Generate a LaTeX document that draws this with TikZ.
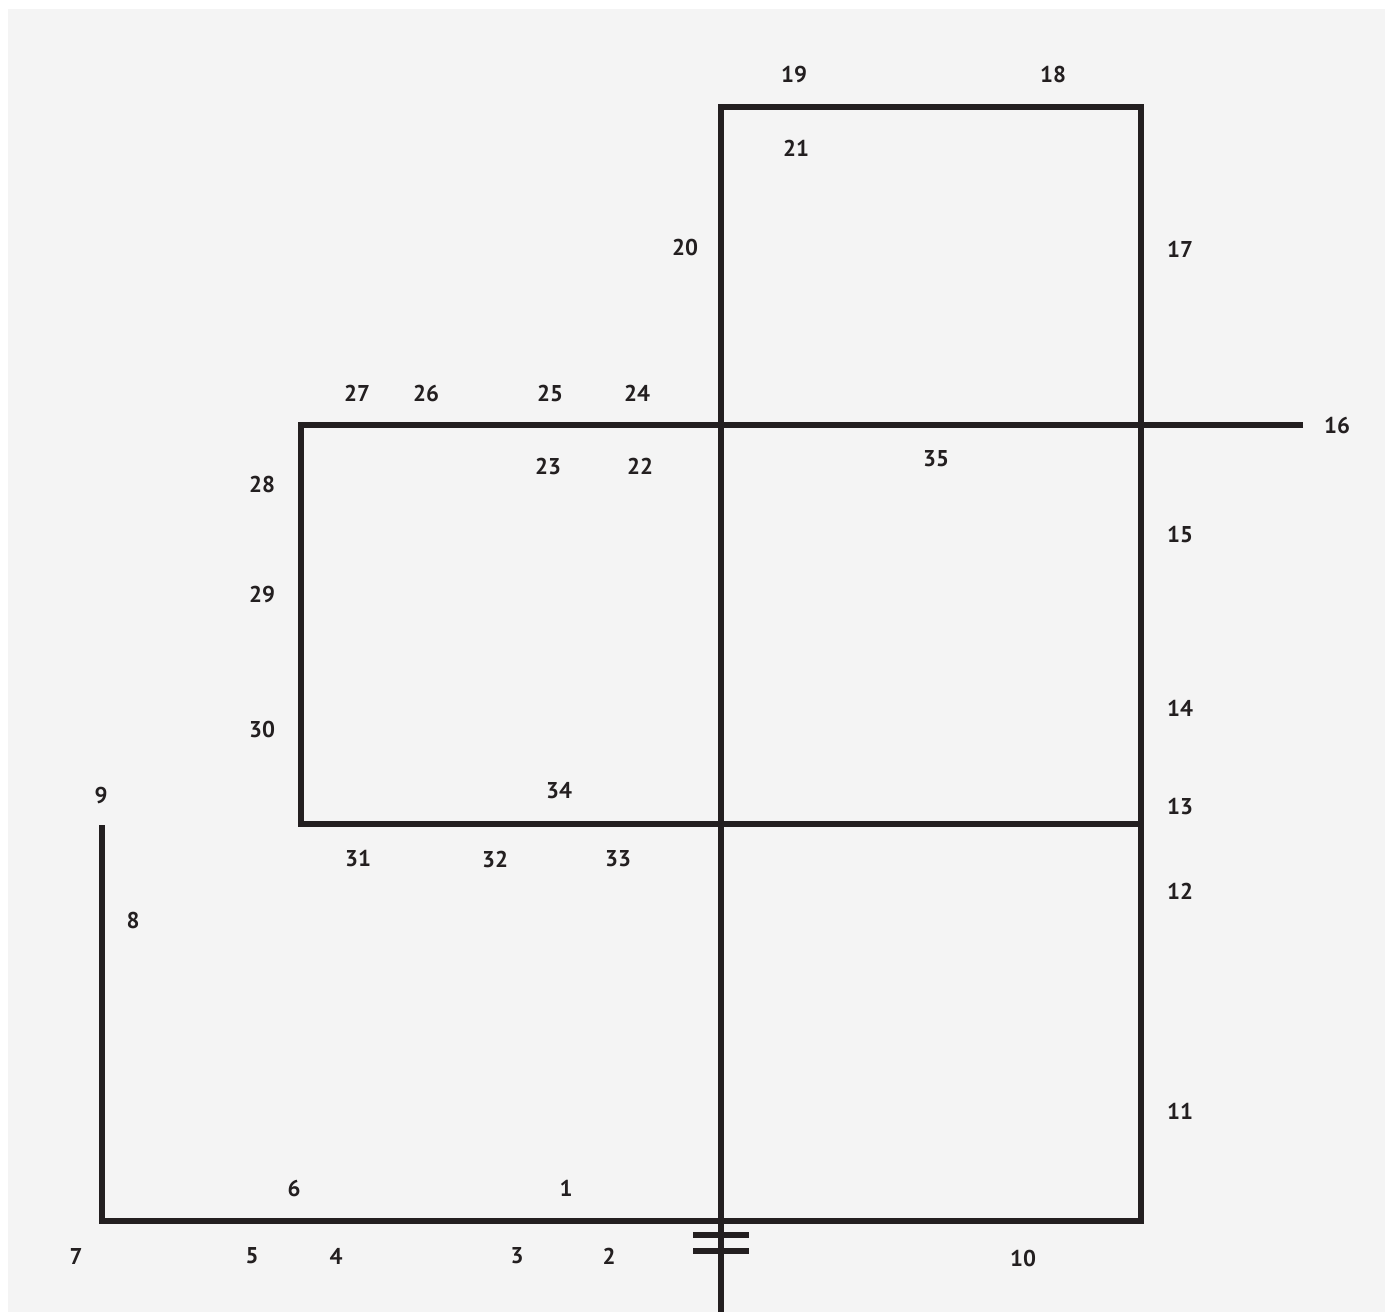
\documentclass[tikz,border=0pt]{standalone}
\usepackage{fontspec}
\setmainfont{PT Sans}
\usepackage{xcolor}
\definecolor{wireblack}{RGB}{35, 31, 32}
\definecolor{paperbg}{RGB}{244, 244, 244}

\begin{document}
\begin{tikzpicture}[x=0.2mm, y=-0.2mm,
		wire/.style={draw=wireblack, line width=1.2mm, line join=miter, line cap=butt},
		num/.style={text=wireblack, font=\fontsize{13}{15}\selectfont\bfseries, inner sep=0pt}]
		% Fondo
		\useasboundingbox (0,0) rectangle (1385,1312);
		\fill[paperbg] (8,9) rectangle (1385,1312);
		
		% Puntos de unión
		\coordinate (topL) at (721,107);
		\coordinate (topR) at (1141,107);
		\coordinate (midL) at (301,425);
		\coordinate (midE) at (1303,425);
		\coordinate (lowL) at (301,824);
		\coordinate (lowR) at (1141,824);
		\coordinate (botL) at (102,1221);
		\coordinate (botR) at (1141,1221);
		\coordinate (stub) at (102,825);
		\coordinate (feed) at (721,1312);
		\coordinate (barA) at (693,1235);
		\coordinate (barB) at (749,1235);
		\coordinate (barC) at (693,1251);
		\coordinate (barD) at (749,1251);
		
		% Trazado
		\draw[wire] (stub) -- (botL) -- (botR) -- (topR) -- (topL) -- (feed);
		\draw[wire] (midE) -- (midL) -- (lowL) -- (lowR);
		\draw[wire] (barA) -- (barB);
		\draw[wire] (barC) -- (barD);
		
		% Fila inferior
		\node[num] (l1) at (566,1188) {1};
		\node[num] (l2) at (609,1256) {2};
		\node[num] (l3) at (517,1256) {3};
		\node[num] (l4) at (336,1256) {4};
		\node[num] (l5) at (252,1256) {5};
		\node[num] (l6) at (294,1188) {6};
		\node[num] (l7) at (76,1256) {7};
		\node[num] (l8) at (133,920) {8};
		\node[num] (l9) at (101,795) {9};
		\node[num] (l10) at (1023,1258) {10};
		
		% Lado derecho
		\node[num] (l11) at (1180,1111) {11};
		\node[num] (l12) at (1180,891) {12};
		\node[num] (l13) at (1180,807) {13};
		\node[num] (l14) at (1180,708) {14};
		\node[num] (l15) at (1180,535) {15};
		\node[num] (l16) at (1337,425) {16};
		\node[num] (l17) at (1180,249) {17};
		
		% Parte superior
		\node[num] (l18) at (1053,75) {18};
		\node[num] (l19) at (794,75) {19};
		\node[num] (l20) at (685,247) {20};
		\node[num] (l21) at (796,148) {21};
		\node[num] (l22) at (640,466) {22};
		\node[num] (l23) at (548,466) {23};
		\node[num] (l24) at (637,393) {24};
		\node[num] (l25) at (550,393) {25};
		\node[num] (l26) at (426,393) {26};
		\node[num] (l27) at (357,393) {27};
		
		% Lado izquierdo y centro
		\node[num] (l28) at (262,484) {28};
		\node[num] (l29) at (262,594) {29};
		\node[num] (l30) at (262,729) {30};
		\node[num] (l31) at (358,859) {31};
		\node[num] (l32) at (495,859) {32};
		\node[num] (l33) at (618,859) {33};
		\node[num] (l34) at (559,791) {34};
		\node[num] (l35) at (936,459) {35};
	\end{tikzpicture}
\end{document}
